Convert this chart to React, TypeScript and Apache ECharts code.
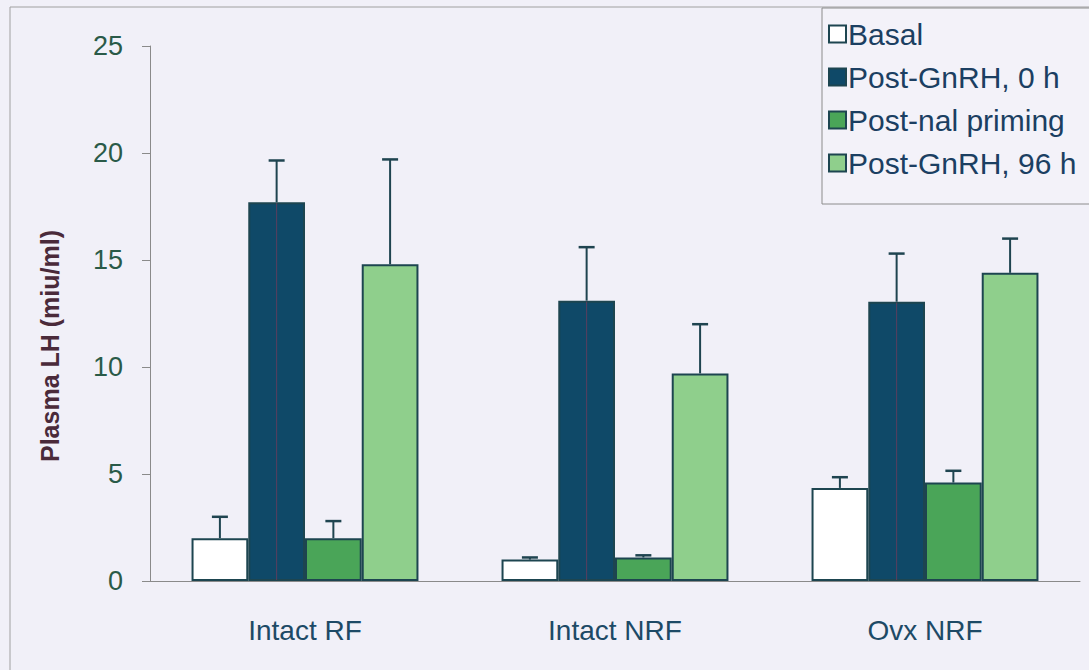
import React, { useEffect, useRef } from "react";
import * as echarts from "echarts";

const categories = ["Intact RF", "Intact NRF", "Ovx NRF"];
const seriesNames = ["Basal", "Post-GnRH, 0 h", "Post-nal priming", "Post-GnRH, 96 h"];
const basal = [2.0, 1.0, 4.35];
const postGnrh0 = [17.7, 13.1, 13.05];
const postNal = [2.0, 1.1, 4.6];
const postGnrh96 = [14.8, 9.7, 14.4];
const basalErr = [1.0, 0.1, 0.5];
const postGnrh0Err = [1.95, 2.5, 2.25];
const postNalErr = [0.8, 0.1, 0.55];
const postGnrh96Err = [4.9, 2.3, 1.6];
const yTicks = [0, 5, 10, 15, 20, 25];

const fills = ["#ffffff", "#0f4968", "#4aa558", "#8fcf8c"];
const values = [basal, postGnrh0, postNal, postGnrh96];
const errors = [basalErr, postGnrh0Err, postNalErr, postGnrh96Err];

export default function App() {
  const ref = useRef<HTMLDivElement>(null);
  useEffect(() => {
    if (!ref.current) return;
    const chart = echarts.init(ref.current, null, { renderer: "svg" });
    const gapPct = 0.268;
    const errData: number[][] = [];
    values.forEach((arr, s) => {
      arr.forEach((v, c) => errData.push([c, v, errors[s][c], s]));
    });
    const font = "'Liberation Sans', Arial, sans-serif";
    chart.setOption({
      animation: false,
      backgroundColor: "#f1f0f8",
      textStyle: { fontFamily: font },
      grid: { left: 150, right: 9, top: 46, bottom: 89, containLabel: false },
      legend: {
        data: seriesNames,
        orient: "vertical",
        left: 822,
        top: 8,
        padding: [11, 20, 26, 6],
        itemWidth: 17,
        itemHeight: 17,
        itemGap: 13,
        backgroundColor: "#f3f2f9",
        borderColor: "#8c8c8c",
        borderWidth: 1,
        icon: "rect",
        textStyle: { fontSize: 30, color: "#1b3f62", fontFamily: font, padding: [0, 0, 0, -3] },
      },
      xAxis: {
        type: "category",
        data: categories,
        axisLine: { lineStyle: { color: "#8a8a8a", width: 1 } },
        axisTick: { show: false },
        axisLabel: { fontSize: 28, color: "#1d4a66", margin: 35, fontFamily: font },
      },
      yAxis: {
        type: "value",
        min: 0,
        max: 25,
        interval: 5,
        axisLine: { show: true, lineStyle: { color: "#8a8a8a", width: 1 } },
        axisTick: { show: true, length: 8, lineStyle: { color: "#8a8a8a" } },
        splitLine: { show: false },
        axisLabel: {
          fontSize: 27,
          color: "#2a5a48",
          margin: 27,
          fontFamily: font,
          formatter: (v: number) => (yTicks.includes(v) ? String(v) : ""),
        },
      },
      series: [
        ...values.map((arr, s) => ({
          type: "bar",
          name: seriesNames[s],
          data: arr,
          barGap: "0%",
          barCategoryGap: gapPct * 100 + "%",
          itemStyle: { color: fills[s], borderColor: "#1d4550", borderWidth: 2 },
          z: 2,
        })),
        {
          type: "custom",
          name: "err",
          z: 5,
          data: errData,
          renderItem: (params: any, api: any) => {
            const c = api.value(0);
            const v = api.value(1);
            const e = api.value(2);
            const s = api.value(3);
            const band = api.size([1, 0])[0];
            const w = (band * (1 - gapPct)) / 4;
            const base = api.coord([c, v]);
            const top = api.coord([c, v + e]);
            const zero = api.coord([c, 0]);
            const x = base[0] + (s - 1.5) * w;
            const children: any[] = [
              {
                type: "line",
                shape: { x1: x, y1: base[1], x2: x, y2: top[1] },
                style: { stroke: "#1f4450", lineWidth: 2 },
              },
              {
                type: "line",
                shape: { x1: x - 8, y1: top[1], x2: x + 8, y2: top[1] },
                style: { stroke: "#1f4450", lineWidth: 2.5 },
              },
            ];
            if (s === 1) {
              children.push({
                type: "line",
                shape: { x1: x, y1: zero[1] - 1, x2: x, y2: base[1] + 1 },
                style: { stroke: "#7a3a5a", lineWidth: 1, opacity: 0.7 },
              });
            }
            return { type: "group", children };
          },
        },
      ],
      graphic: [
        {
          type: "rect",
          shape: { x: 10, y: 7, width: 1100, height: 700 },
          style: { fill: "none", stroke: "#a0a0a0", lineWidth: 1 },
          z: -1,
        },
        {
          type: "text",
          x: 50,
          y: 346,
          rotation: Math.PI / 2,
          style: {
            text: "Plasma LH (miu/ml)",
            font: "bold 25px 'Liberation Sans', Arial, sans-serif",
            fill: "#4a2a3a",
            align: "center",
            verticalAlign: "middle",
          },
        },
      ],
    });
    return () => chart.dispose();
  }, []);
  return (
    <div
      ref={ref}
      style={{ position: "fixed", left: 0, top: 0, width: 1089, height: 670 }}
    />
  );
}
